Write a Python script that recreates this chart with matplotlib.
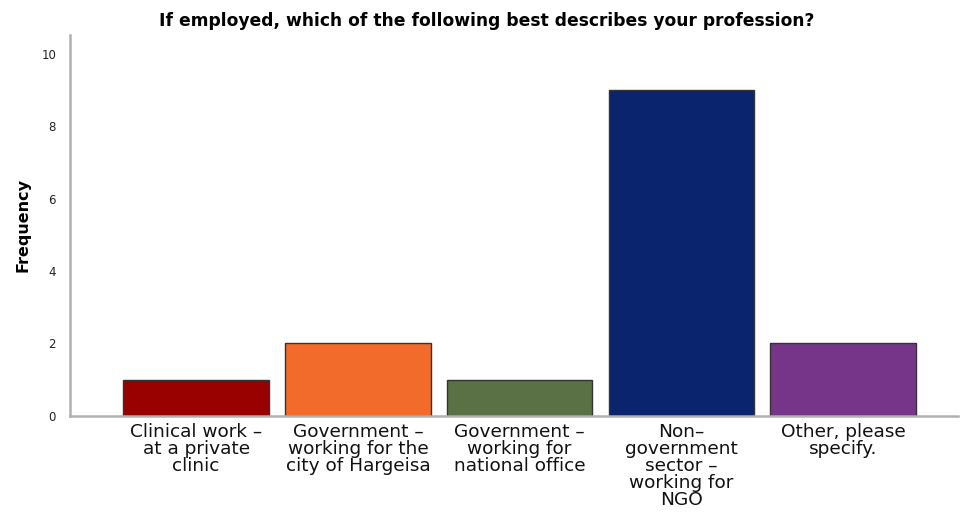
import matplotlib
matplotlib.use("Agg")
import matplotlib.pyplot as plt

categories = [
    "Clinical work –\nat a private\nclinic",
    "Government –\nworking for the\ncity of Hargeisa",
    "Government –\nworking for\nnational office",
    "Non–\ngovernment\nsector –\nworking for\nNGO",
    "Other, please\nspecify.",
]
frequencies = [1, 2, 1, 9, 2]
colors = ["#990000", "#F26B2B", "#5A7045", "#0B246E", "#77358A"]
yticks = [0, 2, 4, 6, 8, 10]

plt.rcParams['font.family'] = ['DejaVu Sans']
fig = plt.figure(figsize=(9.6, 5.16), dpi=100)
ax = fig.add_axes([0.0729, 0.194, 0.925, 0.738])

x = list(range(len(categories)))
ax.bar(x, frequencies, width=0.9, color=colors, edgecolor="#333333", linewidth=1.0)

ax.set_xlim(-0.78, 4.71)
ax.set_ylim(0, 10.52)
ax.set_yticks(yticks)
ax.set_yticklabels([str(t) for t in yticks], fontsize=8.5, color="#222222")
ax.set_xticks(x)
ax.set_xticklabels(categories, fontsize=13.3, color="#111111", linespacing=0.93)
ax.tick_params(axis="both", length=0)
ax.tick_params(axis="y", pad=10)
ax.tick_params(axis="x", pad=5)

for s in ["top", "right"]:
    ax.spines[s].set_visible(False)
for s in ["left", "bottom"]:
    ax.spines[s].set_color("#b0b0b0")
    ax.spines[s].set_linewidth(1.8)

ax.set_ylabel("Frequency", fontsize=11.5, fontweight="bold", labelpad=8)
fig.text(0.507, 0.96, "If employed, which of the following best describes your profession?",
         ha="center", va="center", fontsize=12.3, fontweight="bold")

fig.savefig("out.png", dpi=100)
